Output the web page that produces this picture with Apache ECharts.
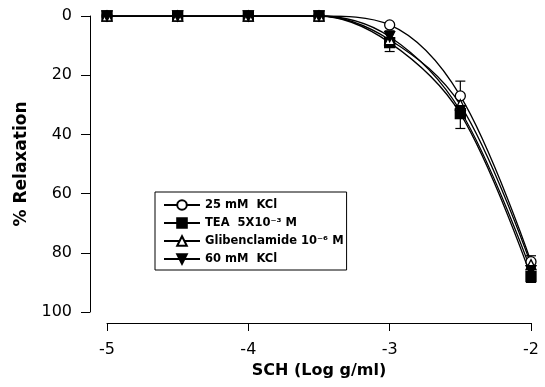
<!DOCTYPE html>
<html>
<head>
<meta charset="utf-8">
<script src="https://cdn.jsdelivr.net/npm/echarts@6/dist/echarts.min.js"></script>
<style>
  html, body { margin: 0; padding: 0; background: #fff; }
  #chart { width: 545px; height: 387px; }
</style>
</head>
<body>
<div id="chart"></div>
<script>
var logDose = [-5, -4.5, -4, -3.5, -3, -2.5, -2];

var kcl25 = [0, 0, 0, 0, 3, 27, 83];
var tea = [0, 0, 0, 0, 9, 33, 88];
var glib = [0, 0, 0, 0, 8, 30, 84];
var kcl60 = [0, 0, 0, 0, 7, 32, 86];

// error bars: [x, low, high]
var errBars = [
  [-3, 5, 12],
  [-2.5, 22, 38],
  [-2, 81, 90]
];

var seriesNames = ['25 mM  KCl', 'TEA  5X10\u207B\u00B3 M', 'Glibenclamide 10\u207B\u2076 M', '60 mM  KCl'];

function pairs(vals) {
  return logDose.map(function (x, i) { return [x, vals[i]]; });
}

var font = 'DejaVu Sans, Arial, sans-serif';

var myChart = echarts.init(document.getElementById('chart'));

function lineSeries(name, vals, symbol, fill, rotate, size) {
  return {
    name: name,
    type: 'line',
    data: pairs(vals),
    smooth: 0.35,
    symbol: symbol,
    symbolSize: size,
    symbolRotate: rotate,
    showAllSymbol: true,
    lineStyle: { color: '#000', width: 1.3 },
    itemStyle: { color: fill, borderColor: '#000', borderWidth: 1.3 },
    emphasis: { disabled: true }
  };
}

var option = {
  backgroundColor: '#fff',
  animation: false,
  textStyle: { fontFamily: font },
  grid: { left: 107, right: 14, top: 16, bottom: 75 },
  legend: {
    orient: 'vertical',
    left: 155,
    top: 192,
    padding: [7, 3, 5, 8],
    itemGap: 6,
    itemWidth: 36,
    itemHeight: 12,
    borderColor: '#000',
    borderWidth: 1,
    borderRadius: 0,
    data: seriesNames,
    textStyle: { fontFamily: font, fontWeight: 'bold', fontSize: 11.5, color: '#000' }
  },
  xAxis: {
    type: 'value',
    min: -5,
    max: -2,
    interval: 1,
    position: 'bottom',
    offset: 11,
    name: 'SCH (Log g/ml)',
    nameLocation: 'middle',
    nameGap: 38,
    nameTextStyle: { fontFamily: font, fontWeight: 'bold', fontSize: 16, color: '#000' },
    axisLine: { onZero: false, lineStyle: { color: '#000', width: 1 } },
    axisTick: { length: 8, lineStyle: { color: '#000' } },
    axisLabel: { fontFamily: font, fontSize: 16, color: '#000', margin: 19 },
    splitLine: { show: false }
  },
  yAxis: {
    type: 'value',
    inverse: true,
    min: 0,
    max: 100,
    interval: 20,
    position: 'left',
    offset: 17,
    name: '% Relaxation',
    nameLocation: 'middle',
    nameGap: 57,
    nameRotate: 90,
    nameTextStyle: { fontFamily: font, fontWeight: 'bold', fontSize: 17, color: '#000' },
    axisLine: { show: true, onZero: false, lineStyle: { color: '#000', width: 1 } },
    axisTick: { show: true, length: 9, lineStyle: { color: '#000' } },
    axisLabel: { fontFamily: font, fontSize: 16, color: '#000', margin: 18 },
    splitLine: { show: false }
  },
  series: [
    {
      type: 'custom',
      silent: true,
      data: errBars,
      renderItem: function (params, api) {
        var x = api.value(0);
        var lo = api.coord([x, api.value(1)]);
        var hi = api.coord([x, api.value(2)]);
        var w = 5;
        var st = { stroke: '#000', lineWidth: 1.2 };
        return {
          type: 'group',
          children: [
            { type: 'line', shape: { x1: lo[0], y1: lo[1], x2: hi[0], y2: hi[1] }, style: st },
            { type: 'line', shape: { x1: lo[0] - w, y1: lo[1], x2: lo[0] + w, y2: lo[1] }, style: st },
            { type: 'line', shape: { x1: hi[0] - w, y1: hi[1], x2: hi[0] + w, y2: hi[1] }, style: st }
          ]
        };
      }
    },
    lineSeries(seriesNames[0], kcl25, 'circle', '#fff', 0, 10),
    lineSeries(seriesNames[1], tea, 'rect', '#000', 0, 10),
    lineSeries(seriesNames[2], glib, 'triangle', '#fff', 0, 10),
    lineSeries(seriesNames[3], kcl60, 'triangle', '#000', 180, 10)
  ]
};

myChart.setOption(option);
</script>
</body>
</html>
